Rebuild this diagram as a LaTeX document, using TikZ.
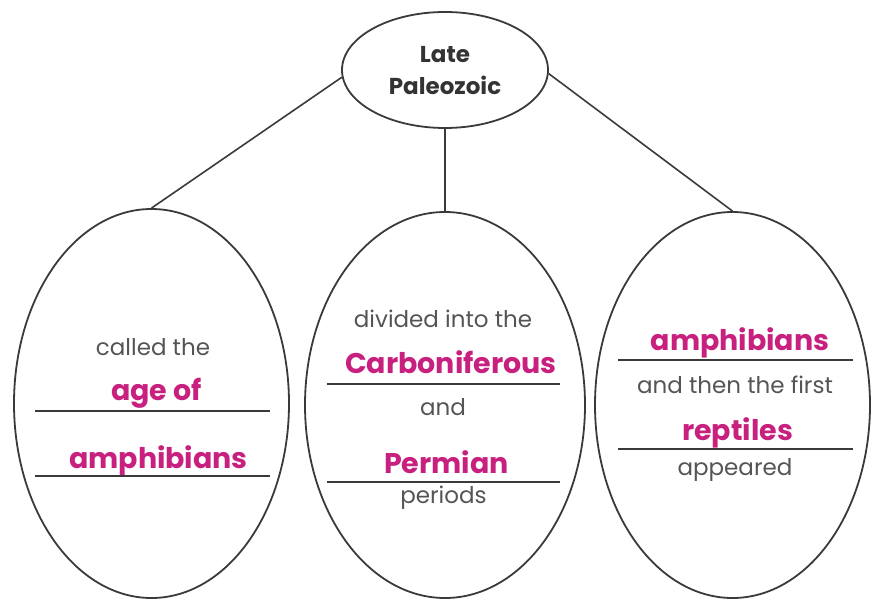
\documentclass[tikz,border=0pt]{standalone}
\usepackage{fontspec}
\setmainfont{Poppins}
\usetikzlibrary{shapes.geometric}

\definecolor{outline}{HTML}{3A3A3A}
\definecolor{bodytext}{HTML}{555555}
\definecolor{answer}{HTML}{C8207F}
\definecolor{titletext}{HTML}{333333}

\tikzset{
  bubble/.style={ellipse, draw=outline, line width=1.8pt, inner sep=0pt},
  link/.style={draw=outline, line width=1.6pt},
  rule/.style={draw=outline, line width=1.4pt},
  plain/.style={anchor=base, inner sep=0pt, text=bodytext, font=\fontsize{23}{27}\selectfont},
  fill in/.style={anchor=base, inner sep=0pt, text=answer, font=\fontsize{28.5}{33}\selectfont\bfseries},
  heading/.style={anchor=base, inner sep=0pt, text=titletext, font=\fontsize{23}{27}\selectfont\bfseries},
}

\begin{document}
\begin{tikzpicture}[x=1pt, y=-1pt]
\useasboundingbox (0,0) rectangle (872,601);

% the era and its three descriptions
\node[bubble, minimum width=206pt, minimum height=116pt] (era) at (445,70) {};
\node[bubble, minimum width=275pt, minimum height=389pt] (name) at (151.5,403.5) {};
\node[bubble, minimum width=280pt, minimum height=386pt] (periods) at (445,405) {};
\node[bubble, minimum width=275pt, minimum height=386pt] (life) at (732.5,405) {};

\node[heading] (t1) at (445,63) {Late};
\node[heading] (t2) at (445,95) {Paleozoic};

% connectors
\draw[link] (era.184) -- (name.north);
\draw[link] (era.south) -- (periods.north);
\draw[link] (era.-2) -- (life.north);

% left: called the age of amphibians
\node[plain] (a1) at (153,355) {called the};
\node[fill in] (a2) at (156.5,400) {age of};
\draw[rule] (35,411) -- (270,411);
\node[fill in] (a3) at (158.5,468) {amphibians};
\draw[rule] (35,476) -- (270,476);

% middle: divided into the Carboniferous and Permian periods
\node[plain] (b1) at (443,327) {divided into the};
\node[fill in] (b2) at (451,373) {Carboniferous};
\draw[rule] (327,384) -- (560,384);
\node[plain] (b3) at (443,415) {and};
\node[fill in] (b4) at (446.5,473) {Permian};
\draw[rule] (327,482) -- (560,482);
\node[plain] (b5) at (443.5,503) {periods};

% right: amphibians and then the first reptiles appeared
\node[fill in] (c1) at (740,350) {amphibians};
\draw[rule] (618,360) -- (853,360);
\node[plain] (c2) at (735,393) {and then the first};
\node[fill in] (c3) at (737.5,440) {reptiles};
\draw[rule] (618,449) -- (853,449);
\node[plain] (c4) at (735,475) {appeared};
\end{tikzpicture}
\end{document}
